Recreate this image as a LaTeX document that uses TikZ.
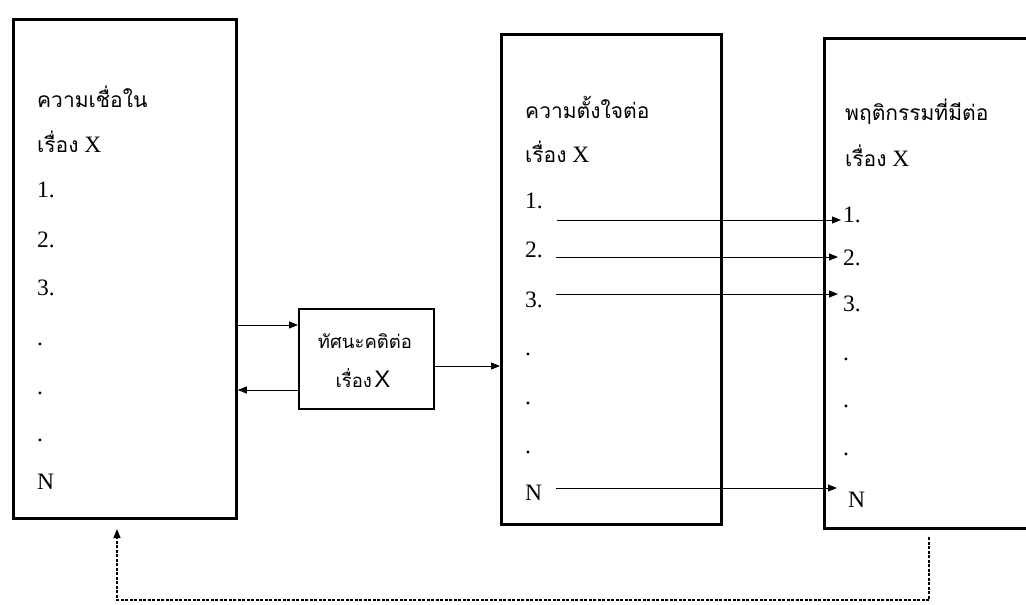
\documentclass[tikz,border=0pt]{standalone}
\usepackage{fontspec}
\setmainfont{Liberation Serif}
\newfontfamily\thaifnt[Script=Thai]{Loma}
\newfontfamily\sansx{Liberation Sans}
\usetikzlibrary{arrows.meta}
\newcommand\thaiw[1]{{\thaifnt\fontsize{21}{24}\selectfont #1}}
\newcommand\thais[1]{{\thaifnt\fontsize{18.5}{22}\selectfont #1}}
\tikzset{
  bigbox/.style={draw, line width=2.8pt, anchor=north west, inner sep=0pt},
  smallbox/.style={draw, line width=2.4pt, anchor=north west, inner sep=0pt},
  item/.style={anchor=base west, inner sep=0pt, font=\fontsize{23.5}{28}\selectfont},
  arr/.style={line width=1pt, -{Triangle[length=9pt,width=7pt]}},
  fb/.style={line width=1.2pt, dash pattern=on 3pt off 1.5pt, -{Triangle[length=9pt,width=7pt]}},
}
\begin{document}
\begin{tikzpicture}[x=1pt,y=-1pt]
\path[use as bounding box, fill=white] (0,0) rectangle (1026,605);
% boxes
\node[bigbox, minimum width=223pt, minimum height=499pt] (L) at (12,18) {};
\node[bigbox, minimum width=220pt, minimum height=490pt] (M) at (500,33) {};
\node[bigbox, minimum width=240pt, minimum height=490pt] (R) at (823,37) {};
\node[smallbox, minimum width=135pt, minimum height=100pt] (S) at (298,308) {};
% left box texts
\node[item] (lt1) at (37,107) {\thaiw{ความเชื่อใน}};
\node[item] (lt2) at (37,152) {\thaiw{เรื่อง} X};
\node[item] (l1) at (37,197.5) {1.};
\node[item] (l2) at (37,247.5) {2.};
\node[item] (l3) at (37,295.5) {3.};
\node[item] (ld1) at (37,345) {.};
\node[item] (ld2) at (37,394) {.};
\node[item] (ld3) at (37,441) {.};
\node[item] (lN) at (37,489.5) {N};
% middle box texts
\node[item] (mt1) at (525,118) {\thaiw{ความตั้งใจต่อ}};
\node[item] (mt2) at (525,162) {\thaiw{เรื่อง} X};
\node[item] (m1) at (525,208) {1.};
\node[item] (m2) at (525,257) {2.};
\node[item] (m3) at (525,307) {3.};
\node[item] (md1) at (525,355) {.};
\node[item] (md2) at (525,404) {.};
\node[item] (md3) at (525,453) {.};
\node[item] (mN) at (525,500) {N};
% right box texts
\node[item] (rt1) at (845,120) {\thaiw{พฤติกรรมที่มีต่อ}};
\node[item] (rt2) at (845,166) {\thaiw{เรื่อง} X};
\node[item] (r1) at (843,222) {1.};
\node[item] (r2) at (843,265) {2.};
\node[item] (r3) at (843,311) {3.};
\node[item] (rd1) at (843,360) {.};
\node[item] (rd2) at (843,407) {.};
\node[item] (rd3) at (843,455) {.};
\node[item] (rN) at (848,507) {N};
% small box texts
\node[anchor=base, inner sep=0pt] (st1) at (365,348) {\thais{ทัศนะคติต่อ}};
\node[anchor=base, inner sep=0pt] (st2) at (363,387) {\thais{เรื่อง} {\sansx\fontsize{24}{28}\selectfont X}};
% connectors
\coordinate (ya) at (0,325);
\coordinate (yb) at (0,390);
\coordinate (yc) at (0,366);
\draw[arr] (L.east |- ya) -- (S.west |- ya);
\draw[arr] (S.west |- yb) -- (L.east |- yb);
\draw[arr] (S.east |- yc) -- (M.west |- yc);
\coordinate (a1) at (557,220);
\coordinate (b1) at (841,220);
\coordinate (a2) at (556,257);
\coordinate (b2) at (838,257);
\coordinate (a3) at (556,294);
\coordinate (b3) at (838,294);
\coordinate (aN) at (556,488);
\coordinate (bN) at (837,488);
\draw[arr] (a1) -- (b1);
\draw[arr] (a2) -- (b2);
\draw[arr] (a3) -- (b3);
\draw[arr] (aN) -- (bN);
% feedback
\coordinate (fR) at (929,537);
\coordinate (fL) at (117,529);
\draw[fb] (fR) -- ++(0,63) -| (fL);
\end{tikzpicture}
\end{document}
